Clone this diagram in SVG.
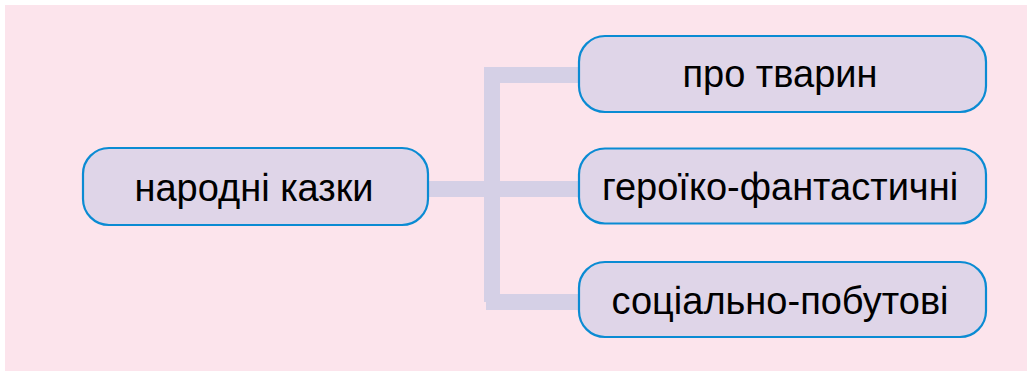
<svg xmlns="http://www.w3.org/2000/svg" width="1027" height="371" viewBox="0 0 1027 371">
<style>
.node rect{fill:#DFD5E8;stroke:#0A8BD3;stroke-width:2.2}
.node text{font-family:"Liberation Sans",Arial,sans-serif;font-size:38px;fill:#000;text-anchor:middle}
.conn rect{fill:#D5D0E6}
</style>
<rect x="0" y="0" width="1027" height="371" fill="#FFFFFF"/>
<rect x="5" y="5" width="1022" height="366" fill="#FCE4EC"/>
<g id="connectors" class="conn">
<rect x="427" y="181" width="153" height="16"/>
<rect x="484" y="67" width="96" height="16"/>
<rect x="484" y="67" width="16" height="235"/>
<rect x="486" y="294" width="94" height="16"/>
</g>
<g id="node-root" class="node">
<rect x="83" y="148" width="345" height="77" rx="26"/>
<text x="254" y="200.5">народні казки</text>
</g>
<g id="node-animals" class="node">
<rect x="579" y="36" width="407" height="76" rx="26"/>
<text x="780" y="86.5">про тварин</text>
</g>
<g id="node-heroic" class="node">
<rect x="579" y="148.5" width="407" height="75" rx="26"/>
<text x="780" y="200">героїко-фантастичні</text>
</g>
<g id="node-social" class="node">
<rect x="579" y="262" width="407" height="75" rx="26"/>
<text x="780" y="314">соціально-побутові</text>
</g>
</svg>
